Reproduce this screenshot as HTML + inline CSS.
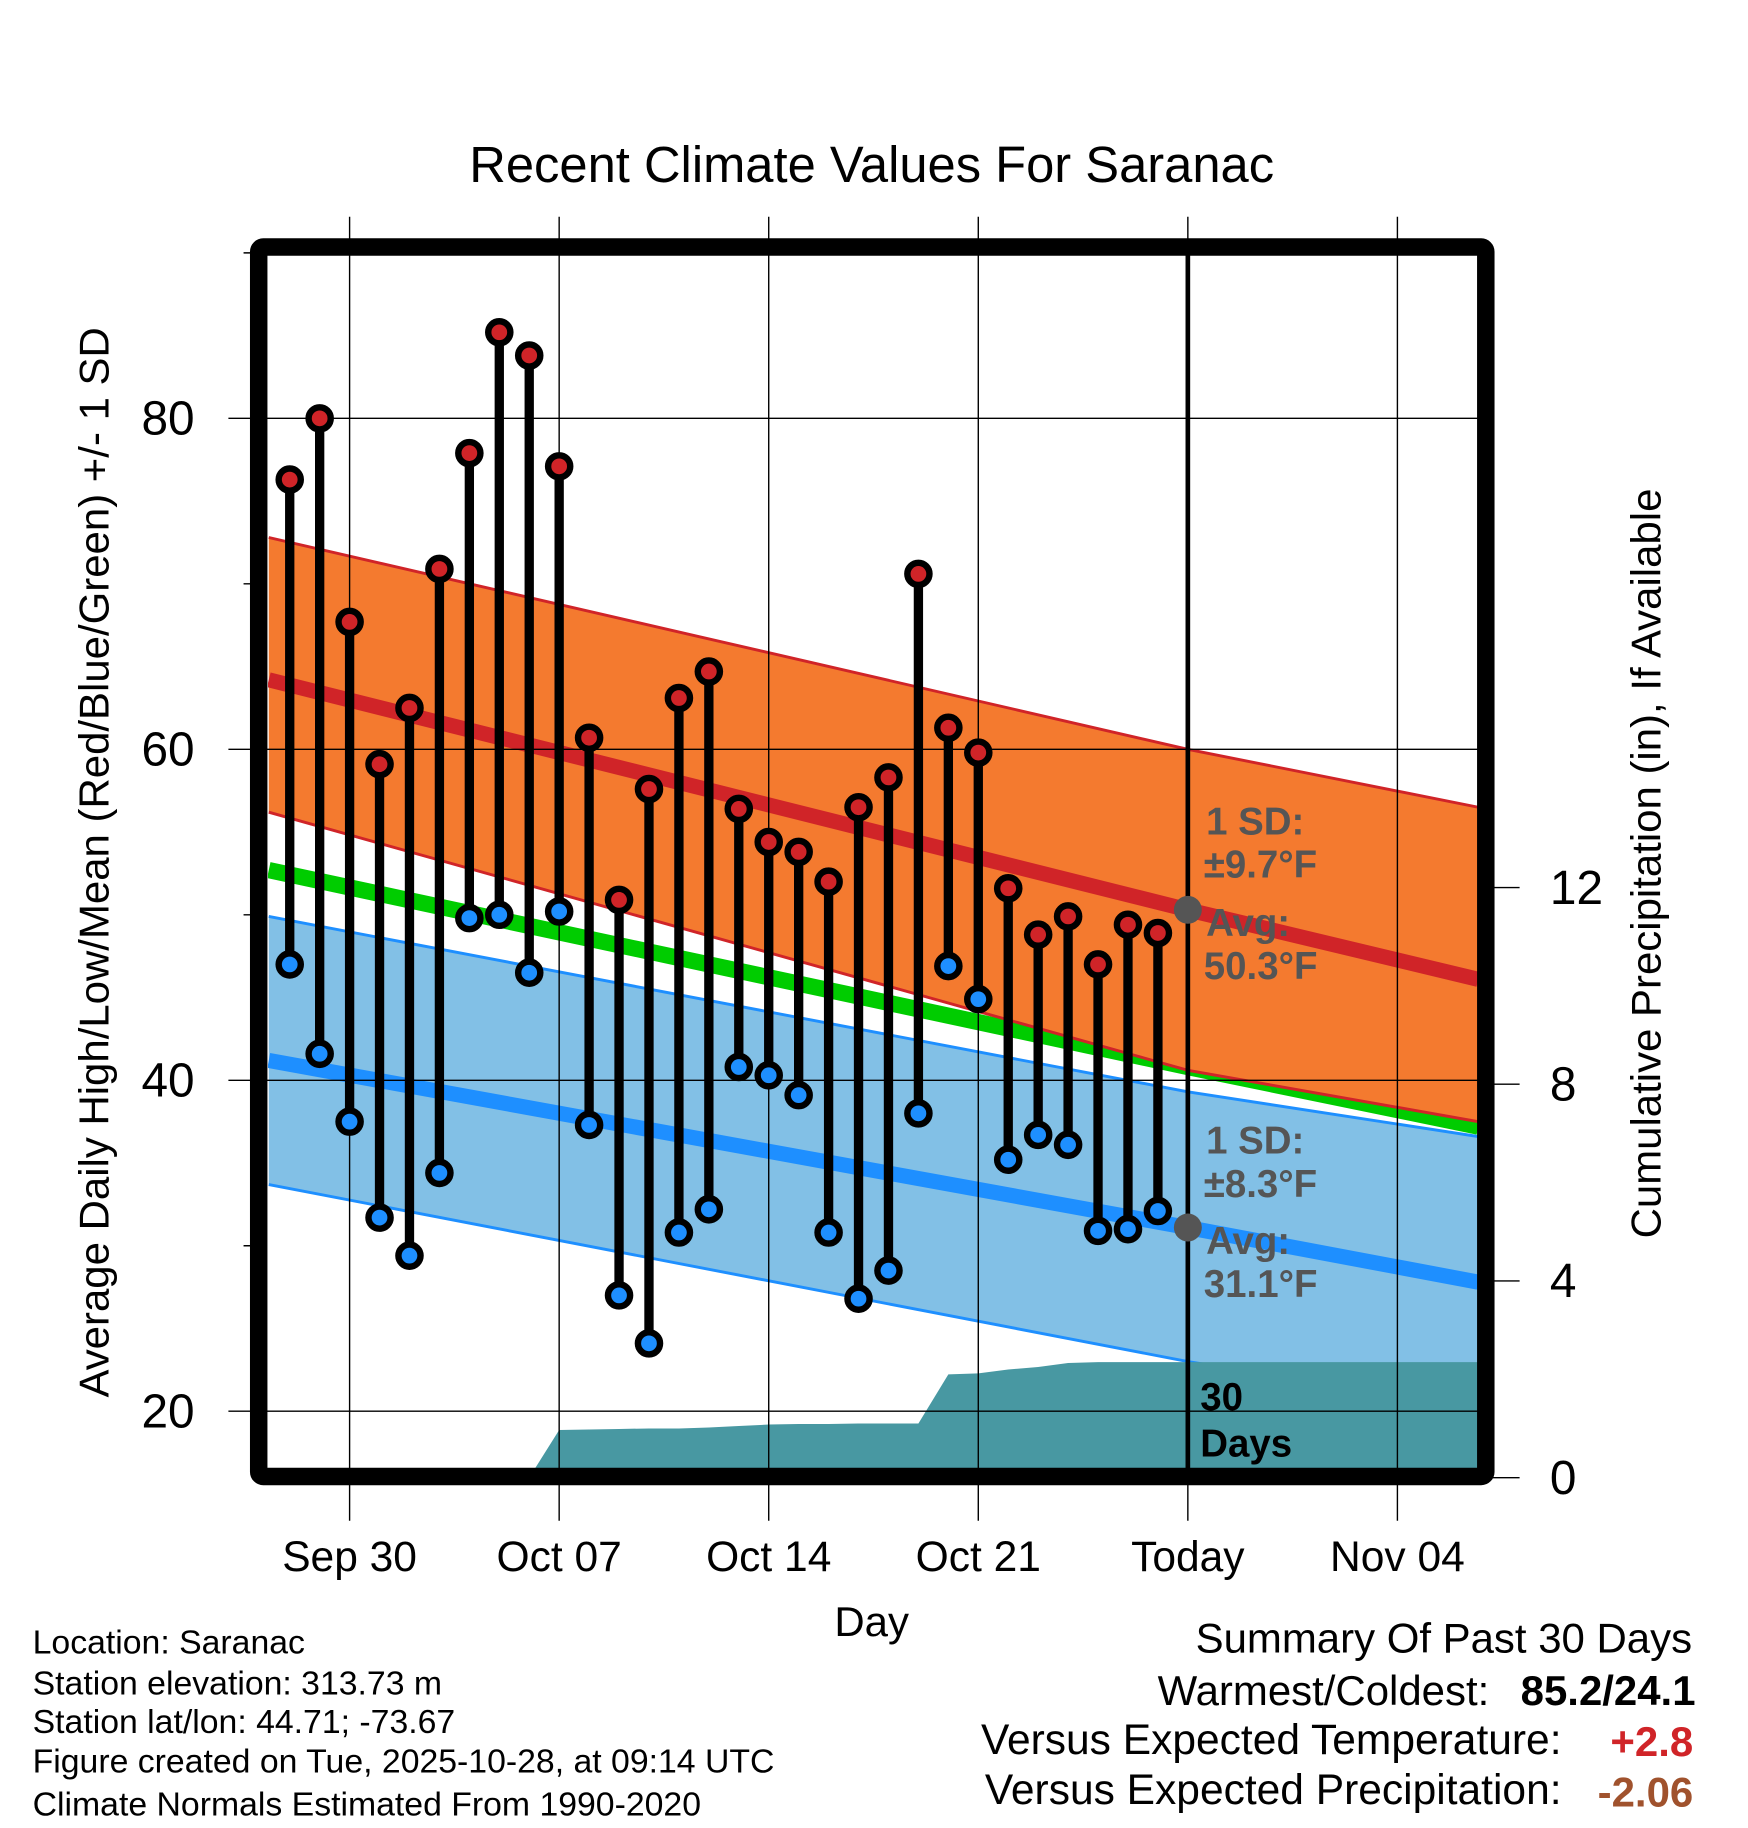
<!DOCTYPE html>
<html><head><meta charset="utf-8"><style>
html,body{margin:0;padding:0;background:#fff;}
svg{display:block;font-family:"Liberation Sans",Arial,sans-serif;}
</style></head><body>
<svg id="chart" width="1748" height="1828" viewBox="0 0 1500 1568.65" preserveAspectRatio="none" xmlns="http://www.w3.org/2000/svg">
<g id="layer"></g>
</svg>
<script>
// ---- data ----
const days = ["Sep 28","Sep 29","Sep 30","Oct 01","Oct 02","Oct 03","Oct 04","Oct 05","Oct 06","Oct 07","Oct 08","Oct 09","Oct 10","Oct 11","Oct 12","Oct 13","Oct 14","Oct 15","Oct 16","Oct 17","Oct 18","Oct 19","Oct 20","Oct 21","Oct 22","Oct 23","Oct 24","Oct 25","Oct 26","Oct 27"];
const dayIndex = [-2,-1,0,1,2,3,4,5,6,7,8,9,10,11,12,13,14,15,16,17,18,19,20,21,22,23,24,25,26,27];
const highs = [76.3,80.0,67.7,59.1,62.5,70.9,77.9,85.2,83.8,77.1,60.7,50.9,57.6,63.1,64.7,56.4,54.4,53.8,52.0,56.5,58.3,70.6,61.3,59.8,51.6,48.8,49.9,47.0,49.4,48.9];
const lows  = [47.0,41.6,37.5,31.7,29.4,34.4,49.8,50.0,46.5,50.2,37.3,27.0,24.1,30.8,32.2,40.8,40.3,39.1,30.8,26.8,28.5,38.0,46.9,44.9,35.2,36.7,36.1,30.9,31.0,32.1];
const precip = [0,0,0,0,0,0,0,0,0,0.97,0.98,0.99,1.0,1.0,1.02,1.05,1.08,1.09,1.09,1.1,1.1,1.1,2.1,2.12,2.2,2.25,2.33,2.35,2.35,2.35];
const normDays = [-2.7, 28, 37.7];
const normHigh = [64.2, 50.3, 46.1];
const normHighUp = [72.8, 60.0, 56.5];
const normHighLo = [56.2, 40.6, 37.5];
const normLow = [41.2, 31.1, 27.8];
const normLowUp = [49.9, 39.3, 36.6];
const normLowLo = [33.7, 23.0, 20.2];
const normMean = [52.7, 40.8, 37.2];
const xTickDays = [0,7,14,21,28,35];
const xTickLabels = ["Sep 30","Oct 07","Oct 14","Oct 21","Today","Nov 04"];
const yTicks = [20,40,60,80];
const yMinor = [30,50,70,90];
const pTicks = [0,4,8,12];

// ---- axes ----
const L=230,R=1268,T=219,B=1260;
const X = d => 300 + d*25.69;
const Y = v => 1211 - (v-20)*14.2;
const P = p => 1268 - p*42.2;
const D0=-2.7, D1=37.7;

const NS="http://www.w3.org/2000/svg";
const g=document.getElementById('layer');
function mk(tag,attrs,parent){const e=document.createElementNS(NS,tag);for(const k in attrs)e.setAttribute(k,attrs[k]);(parent||g).appendChild(e);return e;}
function txt(s,attrs){const e=mk('text',attrs);e.textContent=s;return e;}

const clip=mk('clipPath',{id:'pc'});mk('rect',{x:L,y:T,width:R-L,height:B-T},clip);
const plot=mk('g',{'clip-path':'url(#pc)'});

function band(up,lo,fill,stroke,name){
  let pts=normDays.map((d,i)=>X(d)+','+Y(up[i]));
  pts=pts.concat(normDays.slice().reverse().map((d,i)=>X(d)+','+Y(lo[lo.length-1-i])));
  const e=mk('polygon',{points:pts.join(' '),fill:fill},plot);
  
  
  mk('polyline',{points:normDays.map((d,i)=>X(d)+','+Y(up[i])).join(' '),fill:'none',stroke:stroke,'stroke-width':2.5},plot);
  mk('polyline',{points:normDays.map((d,i)=>X(d)+','+Y(lo[i])).join(' '),fill:'none',stroke:stroke,'stroke-width':2.5},plot);
}
function line(arr,color,w,name){
  const e=mk('polyline',{points:normDays.map((d,i)=>X(d)+','+Y(arr[i])).join(' '),fill:'none',stroke:color,'stroke-width':w},plot);
  
  
}
band(normLowUp,normLowLo,'#82c0e6','#1e8fff','low-sd-band');
line(normMean,'#00cc00',14,'normal-mean-line');
band(normHighUp,normHighLo,'#f47a2f','#d02428','high-sd-band');
line(normHigh,'#d02428',13,'normal-high-line');
line(normLow,'#1e8fff',13,'normal-low-line');

// precipitation area
{
  let pts=[X(dayIndex[0])+','+P(0)];
  dayIndex.forEach((d,i)=>pts.push(X(d)+','+P(precip[i])));
  pts.push(X(D1)+','+P(precip[precip.length-1]));
  pts.push(X(D1)+','+P(0));
  const e=mk('polygon',{points:pts.join(' '),fill:'#4898a2'},plot);
  
  
}

// grid
xTickDays.forEach((d,i)=>{
  mk('line',{x1:X(d),x2:X(d),y1:186,y2:1305,stroke:'#000','stroke-width':1.2});
});
yTicks.forEach(v=>mk('line',{x1:196,x2:R,y1:Y(v),y2:Y(v),stroke:'#000','stroke-width':1.2}));
yMinor.forEach(v=>mk('line',{x1:209,x2:225,y1:Y(v),y2:Y(v),stroke:'#000','stroke-width':1.2}));
pTicks.forEach(p=>mk('line',{x1:1275,x2:1304,y1:P(p),y2:P(p),stroke:'#000','stroke-width':1.2}));

// today line
{const e=mk('line',{x1:X(28),x2:X(28),y1:T,y2:B,stroke:'#000','stroke-width':4});

}

// stems & markers
dayIndex.forEach((d,i)=>{
  const x=X(d);
  const s=mk('line',{x1:x,x2:x,y1:Y(highs[i]),y2:Y(lows[i]),stroke:'#000','stroke-width':8});
  
  
  const h=mk('circle',{cx:x,cy:Y(highs[i]),r:9.5,fill:'#d02428',stroke:'#000','stroke-width':5.5});
  
  
  const l=mk('circle',{cx:x,cy:Y(lows[i]),r:9.5,fill:'#1e8fff',stroke:'#000','stroke-width':5.5});
  
  
});

// avg markers
mk('circle',{cx:X(28),cy:Y(normHigh[1]),r:12,fill:'#555'});
mk('circle',{cx:X(28),cy:Y(normLow[1]),r:12,fill:'#555'});

// frame
{const e=mk('rect',{x:222,y:212,width:1053,height:1055,fill:'none',stroke:'#000','stroke-width':15,rx:4});

}

// annotations
const ann=[["1 SD:",1035,716,'#555'],["±9.7°F",1033,753,'#555'],["Avg:",1035,803,'#555'],["50.3°F",1033,840,'#555'],
["1 SD:",1035,990,'#555'],["±8.3°F",1033,1027,'#555'],["Avg:",1035,1076,'#555'],["31.1°F",1033,1113,'#555'],
["30",1030,1210,'#000'],["Days",1030,1250,'#000']];
ann.forEach(a=>{const e=txt(a[0],{x:a[1],y:a[2],fill:a[3],'font-size':33,'font-weight':'bold'});

});

// tick labels
yTicks.forEach(v=>{const e=txt(String(v),{x:167,y:Y(v)+14,'text-anchor':'end','font-size':41});

});
pTicks.forEach(p=>{const e=txt(String(p),{x:1330,y:P(p)+14,'font-size':41});

});
xTickDays.forEach((d,i)=>{const e=txt(xTickLabels[i],{x:X(d),y:1348,'text-anchor':'middle','font-size':36.5});

});

// titles
{let e=txt("Recent Climate Values For Saranac",{x:748,y:156,'text-anchor':'middle','font-size':43.5});

e=txt("Day",{x:748,y:1404,'text-anchor':'middle','font-size':36});

e=txt("Average Daily High/Low/Mean (Red/Blue/Green) +/- 1 SD",{x:0,y:0,'text-anchor':'middle','font-size':36,transform:'translate(93,740) rotate(-90)'});

e=txt("Cumulative Precipitation (in), If Available",{x:0,y:0,'text-anchor':'middle','font-size':36,transform:'translate(1425,741) rotate(-90)'});
}

// footer left
["Location: Saranac","Station elevation: 313.73 m","Station lat/lon: 44.71; -73.67","Figure created on Tue, 2025-10-28, at 09:14 UTC","Climate Normals Estimated From 1990-2020"].forEach((s,i)=>{
  const e=txt(s,{x:28,y:[1419,1454,1487,1521,1558][i],'font-size':29});
  
  
});
// summary
{let e=txt("Summary Of Past 30 Days",{x:1452,y:1418,'text-anchor':'end','font-size':36});

e=txt("Warmest/Coldest:",{x:1278,y:1463,'text-anchor':'end','font-size':36});

e=txt("85.2/24.1",{x:1455,y:1463,'text-anchor':'end','font-size':36,'font-weight':'bold'});

e=txt("Versus Expected Temperature:",{x:1340,y:1505,'text-anchor':'end','font-size':36.5});

e=txt("+2.8",{x:1453,y:1507,'text-anchor':'end','font-size':36,'font-weight':'bold',fill:'#d02428'});

e=txt("Versus Expected Precipitation:",{x:1340,y:1548,'text-anchor':'end','font-size':36.5});

e=txt("-2.06",{x:1453,y:1550,'text-anchor':'end','font-size':36,'font-weight':'bold',fill:'#a0522d'});
}
</script>
</body></html>
